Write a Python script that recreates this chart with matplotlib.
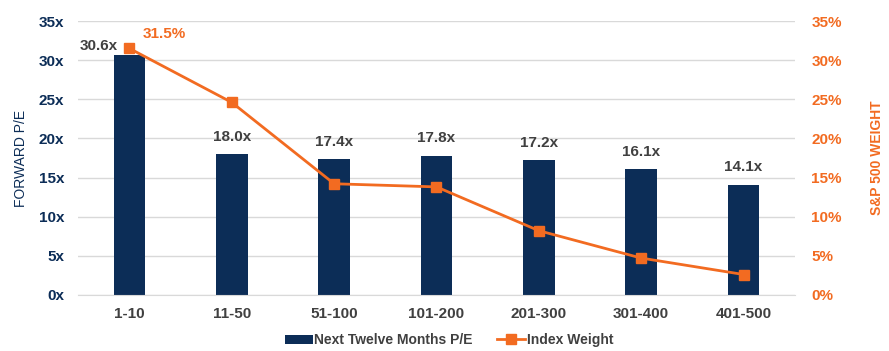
import numpy as np
import matplotlib.pyplot as plt

plt.rcParams['font.family'] = ['Liberation Sans', 'DejaVu Sans']

groups = ['1-10', '11-50', '51-100', '101-200', '201-300', '301-400', '401-500']
fwd_pe = [30.6, 18.0, 17.4, 17.8, 17.2, 16.1, 14.1]
index_weight = [31.5, 24.6, 14.2, 13.8, 8.2, 4.7, 2.6]

navy = '#0c2d57'
orange = '#f26b21'
grey = '#404040'

fig = plt.figure(figsize=(8.89, 3.51), dpi=100)
ax = fig.add_axes([0.088, 0.16, 0.806, 0.78])
ax2 = ax.twinx()

x = np.arange(len(groups))
bars = ax.bar(x, fwd_pe, width=0.31, color=navy, zorder=2, label='Next Twelve Months P/E')
line, = ax2.plot(x, index_weight, color=orange, lw=2, marker='s', ms=7, zorder=3,
                 label='Index Weight')

ax.set_xlim(-0.5, len(groups) - 0.5)
ax.set_ylim(0, 35)
ax2.set_ylim(0, 35)
ax.set_yticks(np.arange(0, 36, 5))
ax2.set_yticks(np.arange(0, 36, 5))
ax.set_yticklabels([f'{v}x' for v in range(0, 36, 5)])
ax2.set_yticklabels([f'{v}%' for v in range(0, 36, 5)])
ax.set_xticks(x)
ax.set_xticklabels(groups)

ax.grid(axis='y', color='#d9d9d9', lw=1, zorder=0)
ax.set_axisbelow(True)
for a in (ax, ax2):
    for s in a.spines.values():
        s.set_visible(False)
ax.spines['bottom'].set_visible(True)
ax.spines['bottom'].set_color('#d9d9d9')
ax.tick_params(length=0)
ax2.tick_params(length=0)
ax.tick_params(axis='y', colors=navy, labelsize=11, pad=10)
ax.tick_params(axis='x', colors=grey, labelsize=11, pad=9)
ax2.tick_params(axis='y', colors=orange, labelsize=11, pad=12)
for lab in ax.get_yticklabels() + ax.get_xticklabels() + ax2.get_yticklabels():
    lab.set_fontweight('bold')

ax.set_ylabel('FORWARD P/E', color=navy, fontsize=10, labelpad=8)
ax2.set_ylabel('S&P 500 WEIGHT', color=orange, fontsize=10, fontweight='bold', labelpad=20)

# value labels above the bars
for i, v in enumerate(fwd_pe):
    if i == 0:
        ax.text(i - 0.3, v + 0.3, f'{v:.1f}x', ha='center', va='bottom',
                color=grey, fontsize=11, fontweight='bold')
    else:
        ax.text(i, v + 1.3, f'{v:.1f}x', ha='center', va='bottom',
                color=grey, fontsize=11, fontweight='bold')
ax2.text(0.34, index_weight[0] + 0.9, f'{index_weight[0]}%', ha='center', va='bottom',
         color=orange, fontsize=11, fontweight='bold')

fig.legend(handles=[bars, line], loc='lower center', bbox_to_anchor=(0.505, -0.025),
           ncol=2, frameon=False, handlelength=2.0, columnspacing=1.8,
           handletextpad=0.1, labelcolor=grey, prop={'weight': 'bold', 'size': 10})

fig.savefig('out.png', dpi=100)
